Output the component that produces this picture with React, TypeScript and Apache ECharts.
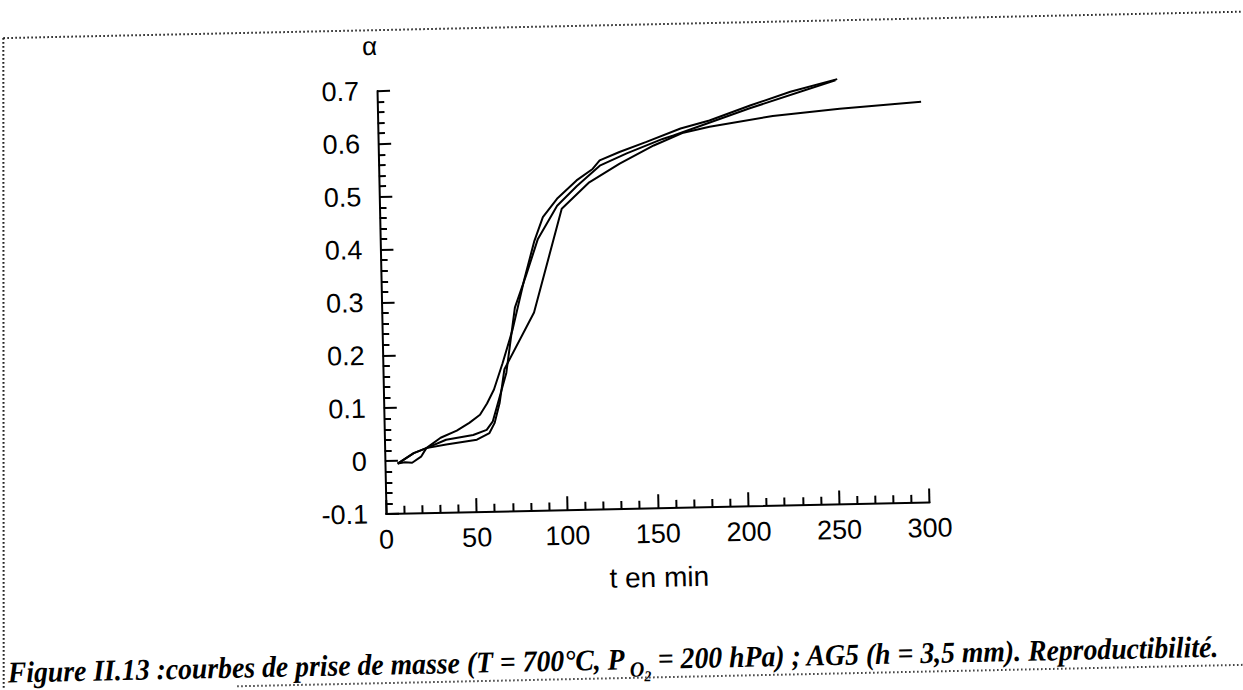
import React, { useEffect, useRef } from "react";
import * as echarts from "echarts";

// ---- data (t in min, alpha) ----
const tA = [7, 16, 23, 31, 40, 47, 53, 57, 61, 66, 72, 79, 85, 90, 98, 109, 118, 122, 133, 148, 167, 183, 206, 228, 254];
const alphaA = [-0.005, 0.014, 0.023, 0.042, 0.055, 0.069, 0.084, 0.105, 0.131, 0.18, 0.244, 0.338, 0.41, 0.455, 0.489, 0.523, 0.544, 0.56, 0.575, 0.593, 0.617, 0.631, 0.658, 0.682, 0.704];

const tB = [7, 11, 15, 20, 23, 34, 49, 56.5, 60, 63, 68, 73.5, 80, 87, 98, 109, 122, 137, 157, 163, 205, 250, 253];
const alphaB = [-0.005, -0.003, -0.004, 0.007, 0.023, 0.038, 0.046, 0.055, 0.071, 0.105, 0.162, 0.285, 0.345, 0.414, 0.476, 0.512, 0.55, 0.572, 0.598, 0.604, 0.652, 0.699, 0.702];

const tC = [7, 16, 23, 34, 51, 58, 61, 64, 67, 84, 100.5, 116, 133, 152, 168.5, 183, 218, 255, 300];
const alphaC = [-0.005, 0.014, 0.023, 0.029, 0.037, 0.049, 0.068, 0.106, 0.169, 0.275, 0.47, 0.519, 0.553, 0.586, 0.609, 0.619, 0.637, 0.648, 0.658];

const xTickLabels = ["0", "50", "100", "150", "200", "250", "300"];
const yTickLabels = ["-0.1", "0", "0.1", "0.2", "0.3", "0.4", "0.5", "0.6", "0.7"];

const xAxisTitle = "t en min";
const yAxisTitle = "α";
const captionStart = "Figure II.13 :courbes de prise de masse (T = 700°C, P";
const captionSub1 = "O";
const captionSub2 = "2";
const captionEnd = " = 200 hPa) ; AG5 (h = 3,5 mm). Reproductibilité.";

const W = 1283;
const H = 730;

const pairs = (t: number[], a: number[]) => t.map((v, i) => [v, a[i]]);

export default function App() {
  const ref = useRef<HTMLDivElement>(null);
  useEffect(() => {
    const el = ref.current;
    if (!el) return;
    const chart = echarts.init(el, null, { renderer: "svg", width: W, height: H });

    // caption measurement
    const F = 30;
    const serif = '"Liberation Serif", "Times New Roman", serif';
    const ctx = document.createElement("canvas").getContext("2d")!;
    const meas = (s: string, size: number) => {
      ctx.font = `italic bold ${size}px ${serif}`;
      return ctx.measureText(s).width;
    };
    const w1 = meas(captionStart, F);
    const gap = 5;
    const wO = meas(captionSub1, F * 0.72);
    const w2 = meas(captionSub2, F * 0.5);
    const w3 = meas(captionEnd, F);
    const natural = w1 + gap + wO + w2 + w3;
    const targetW = 1212;
    const sx = targetW / natural;
    const baseY = 694;
    const capStyle = (text: string, x: number, size: number, dy: number) => ({
      type: "text",
      x,
      y: dy,
      style: {
        text,
        fill: "#000",
        font: `italic bold ${size}px ${serif}`,
        align: "left",
        verticalAlign: "bottom",
      },
    });

    const dotted = { stroke: "#222", lineWidth: 2, lineDash: [1.6, 2.4] };

    const axisFont = '"Liberation Sans", Arial, sans-serif';

    chart.setOption({
      animation: false,
      backgroundColor: "#fff",
      grid: { left: 402.5, top: 105.9, right: 336.8, bottom: 201, containLabel: false },
      xAxis: {
        type: "value",
        min: 0,
        max: 300,
        interval: 50,
        name: xAxisTitle,
        nameLocation: "middle",
        nameGap: 55,
        nameTextStyle: { color: "#000", fontSize: 28, fontFamily: axisFont },
        axisLine: { show: true, onZero: false, lineStyle: { color: "#000", width: 2 } },
        axisTick: { show: true, inside: true, length: 14, lineStyle: { color: "#000", width: 2 } },
        minorTick: { show: true, splitNumber: 5, length: 8, lineStyle: { color: "#000", width: 2 } },
        splitLine: { show: false },
        minorSplitLine: { show: false },
        axisLabel: {
          color: "#000",
          fontSize: 27,
          fontFamily: axisFont,
          margin: 12,
          formatter: (v: number) => xTickLabels[Math.round(v / 50)] ?? String(v),
        },
      },
      yAxis: {
        type: "value",
        min: -0.1,
        max: 0.7,
        interval: 0.1,
        name: yAxisTitle,
        nameLocation: "end",
        nameGap: 32,
        nameTextStyle: { color: "#000", fontSize: 26, fontFamily: axisFont, padding: [0, 13, 0, 0] },
        axisLine: { show: true, onZero: false, lineStyle: { color: "#000", width: 2 } },
        axisTick: { show: true, inside: true, length: 13, lineStyle: { color: "#000", width: 2 } },
        minorTick: { show: true, splitNumber: 5, length: 7, lineStyle: { color: "#000", width: 2 } },
        splitLine: { show: false },
        minorSplitLine: { show: false },
        axisLabel: {
          color: "#000",
          fontSize: 27,
          fontFamily: axisFont,
          margin: 18,
          formatter: (v: number) => yTickLabels[Math.round((v + 0.1) * 10)] ?? String(v),
        },
      },
      series: [
        { name: "essai 1", data: pairs(tA, alphaA) },
        { name: "essai 2", data: pairs(tB, alphaB) },
        { name: "essai 3", data: pairs(tC, alphaC) },
      ].map((s) => ({
        ...s,
        type: "line",
        showSymbol: false,
        symbol: "none",
        clip: false,
        lineStyle: { color: "#000", width: 2 },
      })),
      graphic: [
        // dotted frame
        { type: "line", shape: { x1: 30, y1: 45, x2: 1283, y2: 45 }, style: dotted },
        { type: "line", shape: { x1: 30, y1: 45, x2: 16, y2: 720 }, style: dotted },
        { type: "line", shape: { x1: 1273.5, y1: 45.3, x2: 1272.8, y2: 78 }, style: dotted },
        { type: "line", shape: { x1: 250, y1: 698, x2: 1283, y2: 698 }, style: { ...dotted, stroke: "#444" } },
        {
          type: "group",
          x: 21,
          y: baseY,
          scaleX: sx,
          children: [
            capStyle(captionStart, 0, F, 0),
            capStyle(captionSub1, w1 + gap, F * 0.72, 6),
            capStyle(captionSub2, w1 + gap + wO, F * 0.5, 10),
            capStyle(captionEnd, w1 + gap + wO + w2, F, 0),
          ],
        },
      ],
    });
    return () => chart.dispose();
  }, []);

  return (
    <div
      style={{
        position: "fixed",
        left: 0,
        top: 0,
        width: 1243,
        height: 690,
        overflow: "hidden",
        background: "#fff",
      }}
    >
      <div
        ref={ref}
        style={{
          position: "absolute",
          left: -20,
          top: -20,
          width: W,
          height: H,
          transform: "rotate(-1.22deg)",
          transformOrigin: "50% 50%",
        }}
      />
    </div>
  );
}
